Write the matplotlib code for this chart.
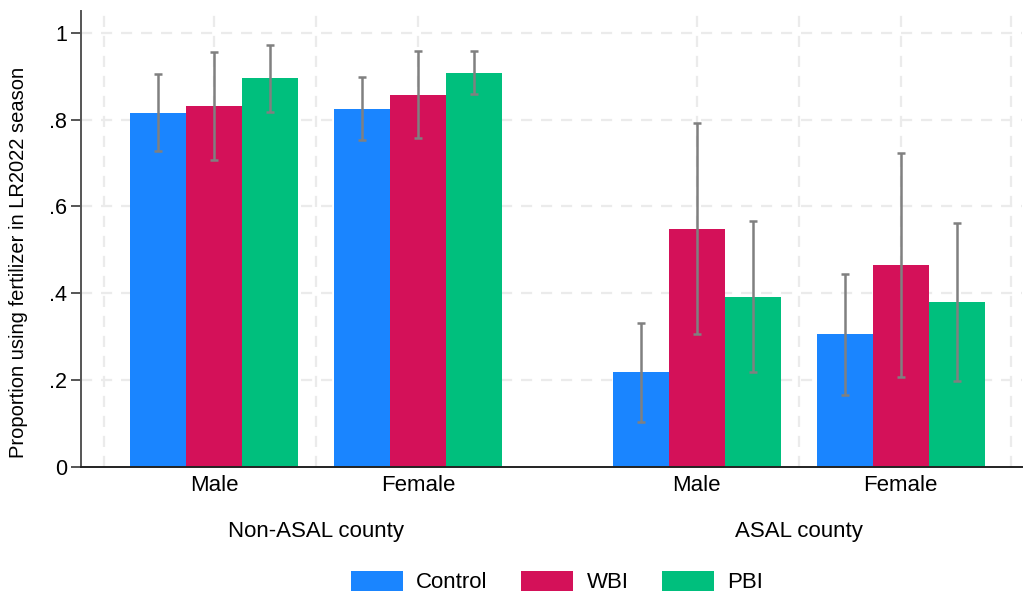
import matplotlib
matplotlib.use("Agg")
import matplotlib.pyplot as plt
import matplotlib.transforms as mtransforms
from matplotlib.patches import Patch
import numpy as np

plt.rcParams['font.family'] = ['Liberation Sans', 'DejaVu Sans']

# ---- data ----
groups = ["Non-ASAL county", "ASAL county"]
categories = ["Male", "Female", "Male", "Female"]
series = ["Control", "WBI", "PBI"]
control = [0.816, 0.825, 0.219, 0.306]
wbi = [0.832, 0.857, 0.549, 0.465]
pbi = [0.896, 0.908, 0.392, 0.380]
control_lo = [0.727, 0.752, 0.104, 0.166]
control_hi = [0.905, 0.897, 0.331, 0.445]
wbi_lo = [0.707, 0.757, 0.306, 0.208]
wbi_hi = [0.956, 0.959, 0.792, 0.724]
pbi_lo = [0.818, 0.859, 0.219, 0.198]
pbi_hi = [0.972, 0.957, 0.566, 0.562]

colors = ["#1A85FF", "#D41159", "#00BF7D"]
err_color = "#808080"

values = [control, wbi, pbi]
lows = [control_lo, wbi_lo, pbi_lo]
highs = [control_hi, wbi_hi, pbi_hi]

gap = 1.363
centers = np.array([0.0, 1.0, 1.0 + gap, 2.0 + gap])
bw = 0.2745

fig = plt.figure(figsize=(10.26, 5.92), dpi=100)
W, H = 1026, 592
ax = fig.add_axes([81 / W, 1 - 467 / H, (1022 - 81) / W, (467 - 11) / H])

xl = (-0.654, 3.958)
ax.set_xlim(*xl)
ax.set_ylim(0, 1.05)

# grid
grid_kw = dict(color="#EBEBEB", lw=1.6, ls=(0, (5, 4)), zorder=0)
for y in [0.2, 0.4, 0.6, 0.8, 1.0]:
    ax.axhline(y, **grid_kw)
vgrid = [centers[0] - 0.542, centers[0], (centers[0] + centers[1]) / 2, centers[1],
         centers[2], (centers[2] + centers[3]) / 2, centers[3], centers[3] + 0.541]
for x in vgrid:
    ax.axvline(x, **grid_kw)

for i, (vals, lo, hi, c) in enumerate(zip(values, lows, highs, colors)):
    xs = centers + (i - 1) * bw
    ax.bar(xs, vals, width=bw, color=c, zorder=2, linewidth=0)
    v = np.array(vals)
    yerr = np.vstack([v - np.array(lo), np.array(hi) - v])
    ax.errorbar(xs, vals, yerr=yerr, fmt="none", ecolor=err_color, elinewidth=1.8,
                capsize=3, capthick=1.8, zorder=3)

for s in ["top", "right"]:
    ax.spines[s].set_visible(False)
ax.spines["left"].set_color("#555555")
ax.spines["left"].set_linewidth(1.4)
ax.spines["bottom"].set_color("#222222")
ax.spines["bottom"].set_linewidth(1.4)
ax.spines["left"].set_bounds(0, 1.05)

yt = [0, 0.2, 0.4, 0.6, 0.8, 1.0]
ax.set_yticks(yt)
ax.set_yticklabels(["0", ".2", ".4", ".6", ".8", "1"], fontsize=15.5)
ax.tick_params(axis="y", length=7, width=1.4, color="#555555", pad=3)
ax.set_xticks(centers)
ax.set_xticklabels(categories, fontsize=16)
ax.tick_params(axis="x", length=0, pad=6)

ax.set_ylabel("Proportion using fertilizer in LR2022 season", fontsize=14.5)
ax.yaxis.set_label_coords(-(81 - 19) / (1022 - 81), (467 - 262.5) / 456)
ax.yaxis.label.set_va("center")

trans = mtransforms.blended_transform_factory(ax.transData, fig.transFigure)
ax.text((centers[0] + centers[1]) / 2, 1 - 531 / H, groups[0], transform=trans,
        ha="center", va="center", fontsize=16)
ax.text((centers[2] + centers[3]) / 2, 1 - 531 / H, groups[1], transform=trans,
        ha="center", va="center", fontsize=16)

handles = [Patch(facecolor=c, edgecolor="none") for c in colors]
fig.legend(handles, series, loc="center", bbox_to_anchor=(557 / W, 1 - 582 / H), ncol=3,
           frameon=False, fontsize=16, handlelength=2.35, handleheight=1.0,
           handletextpad=0.6, columnspacing=1.5, borderpad=0)

fig.savefig("out.png", dpi=100)
